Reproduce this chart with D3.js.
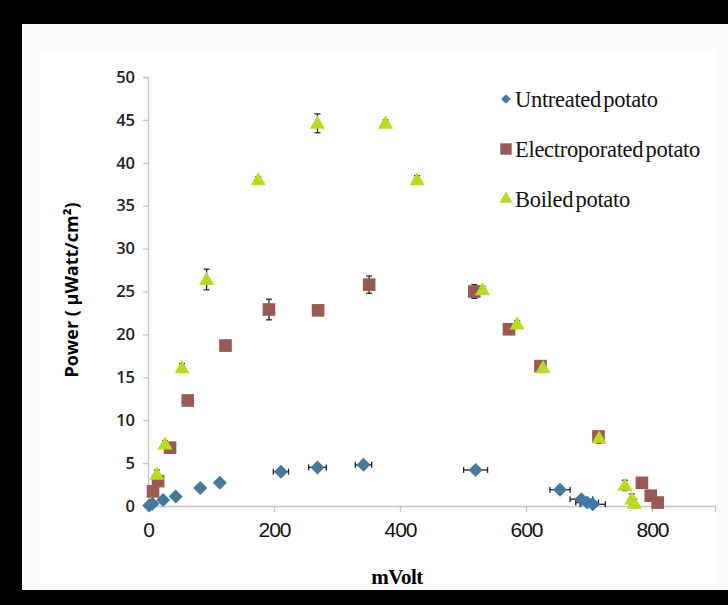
<!DOCTYPE html>
<html>
<head>
<meta charset="utf-8">
<script src="https://cdn.jsdelivr.net/npm/d3@7"></script>
<style>
	body { margin: 0; background: #000; }
	svg { display: block; }
</style>
</head>
<body>
<svg id="plot" width="728" height="605" viewBox="0 0 728 605"></svg>
<script>

// x ticks and y ticks
const x_ticks = [0, 200, 400, 600, 800];
const y_ticks = [0, 5, 10, 15, 20, 25, 30, 35, 40, 45, 50];

// Untreated potato (mV, µW/cm², horizontal error in mV)
const untreated_x = [2, 7, 24, 44, 83, 114, 211, 269, 342, 520, 654, 688, 697, 706];
const untreated_y = [0.05, 0.25, 0.7, 1.1, 2.1, 2.7, 4.0, 4.5, 4.8, 4.2, 1.9, 0.8, 0.4, 0.2];
const untreated_xerr = [0, 0, 0, 0, 0, 0, 12, 14, 13, 19, 16, 18, 18, 20];

// Electroporated potato
const electro_x = [8, 16, 35, 63, 123, 192, 270, 351, 518, 573, 623, 715, 784, 798, 809];
const electro_y = [1.7, 2.9, 6.8, 12.3, 18.7, 22.9, 22.8, 25.8, 25.0, 20.6, 16.3, 8.1, 2.7, 1.2, 0.4];
const electro_yerr = [0, 0.3, 0.3, 0.5, 0.6, 1.2, 0, 1.0, 0.8, 0.3, 0.4, 0.6, 0, 0, 0];

// Boiled potato
const boiled_x = [14, 27, 54, 93, 175, 269, 377, 427, 531, 586, 627, 716, 757, 768, 772];
const boiled_y = [3.7, 7.2, 16.1, 26.4, 38.0, 44.6, 44.6, 38.0, 25.2, 21.2, 16.1, 7.9, 2.4, 0.8, 0.3];
const boiled_yerr = [0.5, 0.4, 0.5, 1.2, 0.4, 1.1, 0.4, 0.5, 0.4, 0.4, 0.3, 0.6, 0.6, 0.6, 0.5];

const series_names = ["Untreated potato", "Electroporated potato", "Boiled potato"];
const series_colors = ["#44789f", "#9a5a54", "#bbd923"];

class ScatterPlot {

	constructor(svg_element_id) {
		this.svg = d3.select('#' + svg_element_id);

		// black frame round the picture, then the light panel
		this.svg.append("rect").attr("width", 728).attr("height", 605).style("fill", "#000");
		this.svg.append("rect").attr("x", 22).attr("y", 24).attr("width", 706).attr("height", 566).style("fill", "#fcfcfc");
		this.svg.append("rect").attr("x", 40).attr("y", 50).attr("width", 676).attr("height", 534).style("fill", "#fff");

		const x = d3.scaleLinear().domain([0, 900]).range([148, 715]);
		const y = d3.scaleLinear().domain([0, 50]).range([506, 77]);

		// axes
		const x_axis = d3.axisBottom(x).tickValues(x_ticks).tickSize(6).tickPadding(10);
		const y_axis = d3.axisLeft(y).tickValues(y_ticks).tickSize(5).tickPadding(8);

		const gx = this.svg.append("g")
			.attr("transform", "translate(0," + y(0) + ")")
			.call(x_axis);
		gx.selectAll("text")
			.style("font-family", "'Liberation Sans Narrow', 'Liberation Sans', sans-serif")
			.style("font-size", "21px")
			.style("letter-spacing", "-1px")
			.style("fill", "#111");

		const gy = this.svg.append("g")
			.attr("transform", "translate(" + x(0) + ",0)")
			.call(y_axis);
		gy.selectAll("text")
			.style("font-family", "'Open Sans', sans-serif")
			.style("font-size", "16.5px")
			.style("font-weight", "600")
			.style("fill", "#222");

		this.svg.selectAll(".domain, .tick line").style("stroke", "#c4c4c4").style("stroke-width", "1.3px");

		// axis titles
		this.svg.append("text")
			.attr("x", 397).attr("y", 584)
			.attr("text-anchor", "middle")
			.style("font-family", "'Liberation Serif', serif")
			.style("font-weight", "bold")
			.style("font-size", "21px")
			.style("letter-spacing", "-0.5px")
			.text("mVolt");

		this.svg.append("text")
			.attr("transform", "translate(78,290) rotate(-90)")
			.attr("text-anchor", "middle")
			.style("font-family", "'Open Sans', sans-serif")
			.style("font-weight", "bold")
			.style("font-size", "18px")
			.text("Power ( µWatt/cm²)");

		const marks = this.svg.append("g");

		// error bars
		const bars = marks.append("g").style("stroke", "#222").style("stroke-width", "1.3px");
		const cap = 3;

		untreated_x.forEach((v, i) => {
			const e = untreated_xerr[i];
			if (!e) return;
			const cy = y(untreated_y[i]);
			bars.append("line").attr("x1", x(v - e)).attr("x2", x(v + e)).attr("y1", cy).attr("y2", cy);
			bars.append("line").attr("x1", x(v - e)).attr("x2", x(v - e)).attr("y1", cy - cap).attr("y2", cy + cap);
			bars.append("line").attr("x1", x(v + e)).attr("x2", x(v + e)).attr("y1", cy - cap).attr("y2", cy + cap);
		});

		function vbars(xs, ys, errs) {
			xs.forEach((v, i) => {
				const e = errs[i];
				if (!e) return;
				const cx = x(v);
				bars.append("line").attr("x1", cx).attr("x2", cx).attr("y1", y(ys[i] - e)).attr("y2", y(ys[i] + e));
				bars.append("line").attr("x1", cx - cap).attr("x2", cx + cap).attr("y1", y(ys[i] - e)).attr("y2", y(ys[i] - e));
				bars.append("line").attr("x1", cx - cap).attr("x2", cx + cap).attr("y1", y(ys[i] + e)).attr("y2", y(ys[i] + e));
			});
		}
		vbars(electro_x, electro_y, electro_yerr);
		vbars(boiled_x, boiled_y, boiled_yerr);

		const diamond = d3.symbol().type(d3.symbolDiamond2).size(125);
		const square = d3.symbol().type(d3.symbolSquare).size(160);
		const triangle = d3.symbol().type(d3.symbolTriangle).size(100);

		const untreated = untreated_x.map((v, i) => [v, untreated_y[i]]);
		const electro = electro_x.map((v, i) => [v, electro_y[i]]);
		const boiled = boiled_x.map((v, i) => [v, boiled_y[i]]);

		marks.append("g").selectAll("path")
			.data(untreated).enter().append("path")
			.attr("d", diamond)
			.attr("transform", d => "translate(" + x(d[0]) + "," + y(d[1]) + ")")
			.style("fill", series_colors[0]);

		marks.append("g").selectAll("path")
			.data(electro).enter().append("path")
			.attr("d", square)
			.attr("transform", d => "translate(" + x(d[0]) + "," + y(d[1]) + ")")
			.style("fill", series_colors[1]);

		marks.append("g").selectAll("path")
			.data(boiled).enter().append("path")
			.attr("d", triangle)
			.attr("transform", d => "translate(" + x(d[0]) + "," + (y(d[1]) + 1) + ")")
			.style("fill", series_colors[2]);

		// legend
		const legend_symbols = [
			d3.symbol().type(d3.symbolDiamond2).size(60),
			d3.symbol().type(d3.symbolSquare).size(130),
			d3.symbol().type(d3.symbolTriangle).size(75)
		];
		const legend = this.svg.append("g").attr("transform", "translate(506,99)");
		series_names.forEach((name, i) => {
			const row = legend.append("g").attr("transform", "translate(0," + (i * 50) + ")");
			row.append("path")
				.attr("d", legend_symbols[i])
				.style("fill", series_colors[i]);
			row.append("text")
				.attr("x", 9).attr("y", 8)
				.style("font-family", "'Liberation Serif', serif")
				.style("font-size", "22.5px")
				.style("word-spacing", "-3px")
				.style("letter-spacing", "-0.3px")
				.style("fill", "#111")
				.text(name);
		});
	}
}

function whenDocumentLoaded(action) {
	if (document.readyState === "loading") {
		document.addEventListener("DOMContentLoaded", action);
	} else {
		action();
	}
}

whenDocumentLoaded(() => {
	plot_object = new ScatterPlot('plot');
});
</script>
</body>
</html>
